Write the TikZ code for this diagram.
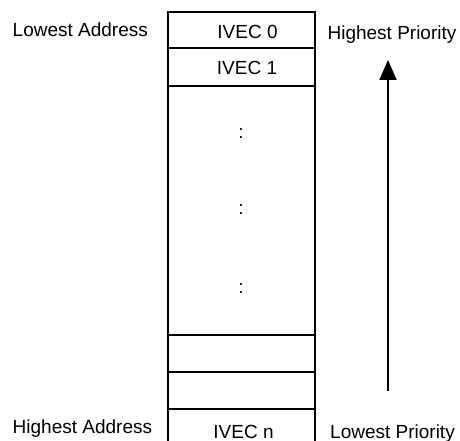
\documentclass[tikz,border=0pt]{standalone}
\usepackage{fontspec}
\setmainfont{Liberation Sans}
\usetikzlibrary{arrows.meta}

\begin{document}
\begin{tikzpicture}[x=1pt,y=-1pt,>={Triangle[length=20pt,width=17pt]},
  font=\fontsize{19}{22}\selectfont,
  lbl/.style={inner sep=0pt,anchor=base},
  wall/.style={line width=2pt}]
\useasboundingbox (0,0) rectangle (460,441);

\draw[wall] (168,12.5) rectangle (315,447);
\foreach \y in {48,86,335,372,409}
  \draw[wall] (168,\y) -- (315,\y);

\node[lbl] (ivec0) at (247.5,39) {IVEC 0};
\node[lbl] (ivec1) at (247,75) {IVEC 1};
\node[lbl] (ivecn) at (243.5,438) {IVEC n};

\node[lbl] (dotsa) at (241,139) {:};
\node[lbl] (dotsb) at (241,214) {:};
\node[lbl] (dotsc) at (241,293) {:};

\node[lbl,anchor=base west] (lowaddr) at (12.5,37) {Lowest Address};
\node[lbl,anchor=base west] (highaddr) at (12.5,433) {Highest Address};
\node[lbl] (highprio) at (392,39.5) {Highest Priority};
\node[lbl] (lowprio) at (392.5,438) {Lowest Priority};

\coordinate (prioend) at (388,391);
\coordinate (priotip) at (388,60);
\draw[->,line width=2pt] (prioend) -- (priotip);
\end{tikzpicture}
\end{document}
